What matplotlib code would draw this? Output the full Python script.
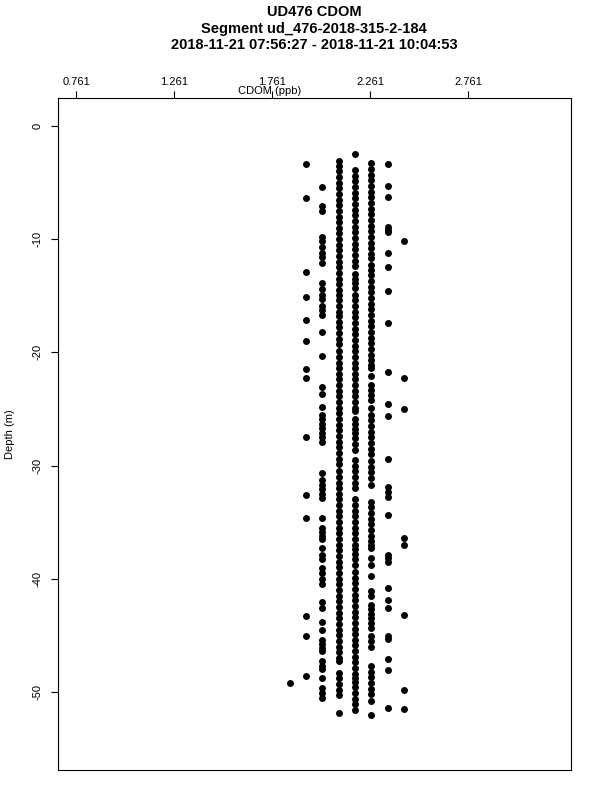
import numpy as np
import matplotlib
matplotlib.use("Agg")
import matplotlib.pyplot as plt

plt.rcParams['font.family'] = ['Liberation Sans', 'DejaVu Sans']

title_lines = ["UD476 CDOM",
               "Segment ud_476-2018-315-2-184",
               "2018-11-21 07:56:27 - 2018-11-21 10:04:53"]

xticks = [0.761, 1.261, 1.761, 2.261, 2.761]
yticks = [0, -10, -20, -30, -40, -50]

# CDOM levels (ppb), the sensor output is quantised
cdom_levels = [1.851, 1.934, 2.018, 2.101, 2.184, 2.268, 2.351, 2.434]

# depths (m) where each level was recorded
d1851 = [-49.2]
d1934 = [-3.4, -6.4, -12.9, -15.1, -17.1, -19.0, -21.5, -22.3, -27.5, -32.6, -34.6,
         -43.3, -45.1, -48.6]
d2018 = [-5.4, -7.1, -7.5, -9.8, -10.2, -10.7, -11.2, -11.6, -12.1, -13.9, -14.4, -14.9,
         -15.3, -15.9, -16.3, -16.7, -18.2, -20.3, -23.1, -23.7, -24.8, -25.5, -25.9, -26.3,
         -26.7, -27.1, -27.5, -27.9, -30.7, -31.3, -31.7, -32.1, -32.5, -32.9, -34.6, -35.5,
         -35.9, -36.2, -36.5, -37.3, -37.9, -38.3, -39.05, -39.5, -40.0, -40.5, -42.1, -42.6,
         -43.8, -44.5, -45.4, -45.8, -46.1, -46.4, -47.3, -47.7, -48.0, -48.8, -49.65, -50.1,
         -50.5]
d2101 = [-3.1, -3.5, -4.0, -4.5, -5.0, -5.5, -6.0, -6.5, -7.0, -7.5, -8.0, -8.5, -9.0, -9.5,
         -10.0, -10.5, -11.0, -11.5, -12.0, -12.5, -13.0, -13.5, -14.0, -14.5, -14.9, -15.4,
         -15.9, -16.4, -16.8, -17.3, -17.8, -18.3, -18.8, -19.3, -19.9, -20.4, -20.9, -21.4,
         -21.9, -22.4, -22.9, -23.4, -23.9, -24.4, -24.9, -25.4, -25.9, -26.4, -26.9, -27.4,
         -27.9, -28.4, -28.9, -29.4, -29.9, -30.5, -31.0, -31.5, -32.0, -32.5, -33.0, -33.5,
         -34.0, -34.5, -35.0, -35.5, -36.0, -36.5, -37.0, -37.5, -38.0, -38.5, -39.0, -39.5,
         -40.0, -40.5, -41.0, -41.5, -42.0, -42.5, -43.0, -43.5, -44.0, -44.5, -45.0, -45.5,
         -46.0, -46.5, -47.0, -47.3, -48.3, -48.8, -49.3, -49.8, -50.3, -51.9]
d2184 = [-2.5, -3.9, -4.4, -4.9, -5.4, -5.9, -6.4, -6.9, -7.4, -7.9, -8.4, -8.9, -9.4, -9.9,
         -10.4, -10.9, -11.4, -11.9, -12.4, -13.1, -13.5, -13.9, -14.3, -14.9, -15.4, -15.9,
         -16.4, -16.9, -17.4, -17.9, -18.4, -18.9, -19.4, -19.9, -20.4, -20.9, -21.4, -21.9,
         -22.4, -22.9, -23.4, -23.9, -24.4, -24.9, -25.2, -25.9, -26.3, -26.8, -27.1, -27.6,
         -28.1, -28.6, -29.5, -30.0, -30.5, -31.0, -31.5, -32.0, -33.0, -33.5, -34.0, -34.5,
         -35.0, -35.5, -36.0, -36.5, -37.0, -37.4, -37.8, -38.3, -38.8, -39.4, -39.9, -40.4,
         -40.9, -41.4, -41.9, -42.4, -42.9, -43.4, -43.9, -44.4, -44.9, -45.4, -45.9, -46.4,
         -46.9, -47.4, -47.9, -48.4, -48.8, -49.1, -49.6, -50.1, -50.6, -51.1, -51.6]
d2268 = [-3.3, -3.8, -4.3, -4.8, -5.3, -5.8, -6.3, -6.8, -7.3, -7.8, -8.3, -8.8, -9.3, -9.8,
         -10.3, -10.8, -11.3, -11.7, -12.25, -12.7, -13.2, -13.7, -14.2, -14.7, -15.2, -15.7,
         -16.2, -16.7, -17.2, -17.7, -18.2, -18.7, -19.2, -19.7, -20.2, -20.7, -21.1, -21.4,
         -22.1, -22.9, -23.3, -23.8, -24.2, -24.9, -25.5, -26.0, -26.5, -27.0, -27.5, -28.0,
         -28.5, -29.0, -29.6, -30.1, -30.6, -31.1, -31.7, -33.2, -33.7, -34.2, -34.7, -35.2,
         -35.7, -36.2, -36.7, -37.0, -37.3, -38.2, -38.8, -39.8, -41.1, -41.5, -42.3, -42.7,
         -43.1, -43.5, -43.9, -44.35, -45.1, -45.5, -46.0, -47.7, -48.2, -48.7, -49.2, -49.7,
         -50.2, -50.8, -52.0]
d2351 = [-3.4, -5.3, -6.3, -8.95, -9.2, -9.4, -11.25, -12.5, -14.55, -17.4, -21.7, -24.6,
         -25.6, -29.4, -31.9, -32.3, -32.8, -34.4, -37.9, -38.2, -38.5, -40.8, -41.9, -42.6,
         -45.05, -45.3, -47.05, -48.1, -51.4]
d2434 = [-10.2, -22.3, -25.0, -36.4, -37.0, -43.2, -49.8, -51.5]

depth_lists = [d1851, d1934, d2018, d2101, d2184, d2268, d2351, d2434]

fig = plt.figure(figsize=(6, 8), dpi=100)
ax = fig.add_axes([58/600, 1 - 770/800, 513/600, 672/800])

for level, depths in zip(cdom_levels, depth_lists):
    ax.plot([level] * len(depths), depths, 'o', color='black', ms=5.0, mew=0, ls='none')

ax.set_xlim(0.669, 3.287)
ax.set_ylim(-56.9, 2.47)

ax.xaxis.tick_top()
ax.set_xticks(xticks)
ax.set_xticklabels(["%.3f" % v for v in xticks])
ax.set_yticks(yticks)
ax.set_yticklabels([str(v) for v in yticks])
ax.tick_params(axis='x', direction='out', length=5, width=0.8, pad=3, labelsize=8)
ax.tick_params(axis='y', direction='out', length=5, width=0.8, pad=6, labelsize=8,
               labelrotation=90)
for lab in ax.get_yticklabels():
    lab.set_verticalalignment('center')
for s in ax.spines.values():
    s.set_linewidth(0.8)

fig.text(270/600, 1 - 91/800, "CDOM (ppb)", ha='center', va='center', fontsize=8)
fig.text(10/600, 1 - 434/800, "Depth (m)", ha='center', va='center', fontsize=8,
         rotation=90)

for i, line in enumerate(title_lines):
    fig.text(314/600, 1 - (12 + 16.5 * i)/800, line, ha='center', va='center',
             fontsize=10.5, fontweight='bold')

fig.savefig("out.png", dpi=100)
